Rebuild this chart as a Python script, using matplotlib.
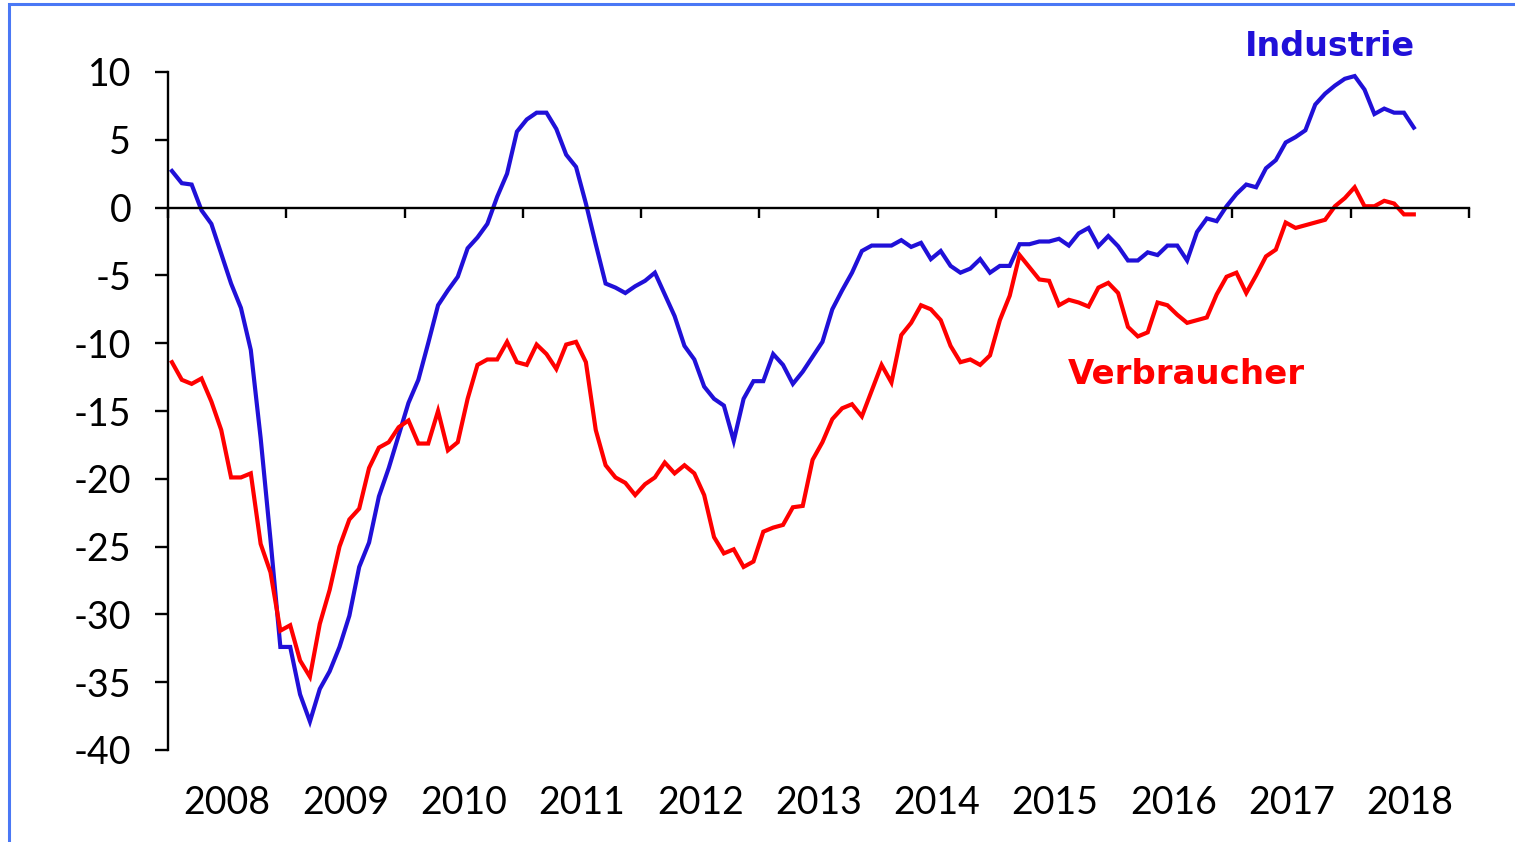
import matplotlib
matplotlib.use('Agg')
import matplotlib.pyplot as plt
import numpy as np
from matplotlib.patches import Rectangle

# monthly values, Jan 2008 - Jul 2018
industrie = [
    2.7, 1.8, 1.7, -0.2, -1.2, -3.4, -5.6, -7.4, -10.5, -17.0, -24.5, -32.4,
    -32.4, -35.9, -37.9, -35.5, -34.2, -32.4, -30.1, -26.5, -24.7, -21.3, -19.2, -16.8,
    -14.4, -12.7, -10.0, -7.2, -6.1, -5.1, -3.0, -2.2, -1.2, 0.8, 2.5, 5.6,
    6.5, 7.0, 7.0, 5.8, 3.9, 3.0, 0.3, -2.7, -5.6, -5.9, -6.3, -5.8,
    -5.4, -4.8, -6.4, -8.0, -10.2, -11.2, -13.2, -14.1, -14.6, -17.2, -14.1, -12.8,
    -12.8, -10.8, -11.6, -13.0, -12.1, -11.0, -9.9, -7.5, -6.1, -4.8, -3.2, -2.8,
    -2.8, -2.8, -2.4, -2.9, -2.6, -3.8, -3.2, -4.3, -4.8, -4.5, -3.8, -4.8,
    -4.3, -4.3, -2.7, -2.7, -2.5, -2.5, -2.3, -2.8, -1.9, -1.5, -2.85, -2.1,
    -2.85, -3.9, -3.9, -3.3, -3.5, -2.8, -2.8, -3.9, -1.8, -0.8, -1.0, 0.1,
    1.0, 1.7, 1.5, 2.9, 3.5, 4.8, 5.2, 5.7, 7.6, 8.4, 9.0, 9.5,
    9.7, 8.7, 6.9, 7.3, 7.0, 7.0, 5.9,
]
verbraucher = [
    -11.4, -12.7, -13.0, -12.6, -14.3, -16.4, -19.9, -19.9, -19.6, -24.8, -26.9, -31.2,
    -30.8, -33.4, -34.6, -30.7, -28.2, -25.0, -23.0, -22.2, -19.2, -17.7, -17.3, -16.2,
    -15.7, -17.4, -17.4, -15.0, -17.9, -17.3, -14.1, -11.6, -11.2, -11.2, -9.9, -11.4,
    -11.6, -10.1, -10.8, -11.9, -10.1, -9.9, -11.4, -16.4, -19.0, -19.9, -20.3, -21.2,
    -20.4, -19.9, -18.8, -19.6, -19.0, -19.6, -21.2, -24.3, -25.5, -25.2, -26.5, -26.1,
    -23.9, -23.6, -23.4, -22.1, -22.0, -18.6, -17.3, -15.6, -14.8, -14.5, -15.4, -13.5,
    -11.6, -12.9, -9.4, -8.5, -7.2, -7.5, -8.3, -10.2, -11.4, -11.2, -11.6, -10.9,
    -8.3, -6.5, -3.5, -4.4, -5.3, -5.4, -7.2, -6.8, -7.0, -7.3, -5.9, -5.55,
    -6.3, -8.8, -9.5, -9.2, -7.0, -7.2, -7.9, -8.5, -8.3, -8.1, -6.4, -5.1,
    -4.8, -6.3, -5.0, -3.6, -3.1, -1.1, -1.5, -1.3, -1.1, -0.9, 0.1, 0.7,
    1.5, 0.1, 0.1, 0.5, 0.3, -0.5, -0.5,
]
years = list(range(2008, 2019))
y_ticks = [10, 5, 0, -5, -10, -15, -20, -25, -30, -35, -40]

BLUE = '#2010d8'
RED = '#ff0000'

# mid-month positions in decimal years
t = 2008 + (np.arange(len(industrie)) + 0.4) / 12.0

fig = plt.figure(figsize=(15.15, 8.42), dpi=100)
ax = fig.add_axes([168 / 1515, 92 / 842, 1301 / 1515, 678 / 842])

ax.plot(t, industrie, color=BLUE, lw=3.0, solid_joinstyle='miter')
ax.plot(t, verbraucher, color=RED, lw=3.0, solid_joinstyle='miter')

ax.set_xlim(2008, 2019)
ax.set_ylim(-40, 10)

for side in ('top', 'right'):
    ax.spines[side].set_visible(False)
ax.spines['bottom'].set_position(('data', 0))
for side in ('left', 'bottom'):
    ax.spines[side].set_linewidth(1.7)

ax.set_yticks(y_ticks)
ax.set_yticklabels([str(v) for v in y_ticks], fontfamily='Lato', fontsize=27)
ax.tick_params(axis='y', direction='out', length=9.5, width=1.7, pad=17)

ax.set_xticks(years + [2019])
ax.set_xticklabels([])
ax.tick_params(axis='x', direction='out', length=7, width=1.7)

sec = ax.secondary_xaxis('bottom')
sec.spines['bottom'].set_visible(False)
sec.set_xticks([y + 0.5 for y in years])
sec.set_xticklabels([str(y) for y in years], fontfamily='Lato', fontsize=27)
sec.tick_params(axis='x', length=0, pad=25)

ax.text(2017.82, 11.15, 'Industrie', color=BLUE, fontsize=24,
        fontweight='bold', ha='center', va='baseline')
ax.text(2016.61, -13.0, 'Verbraucher', color=RED, fontsize=24.5,
        fontweight='bold', ha='center', va='baseline')

fig.patches.append(Rectangle((9 / 1515, -0.1), 1.2, 1.1 - 4 / 842,
                             transform=fig.transFigure, fill=False,
                             edgecolor='#4a78f5', lw=2.2))

fig.savefig('out.png', dpi=100)
plt.close(fig)
